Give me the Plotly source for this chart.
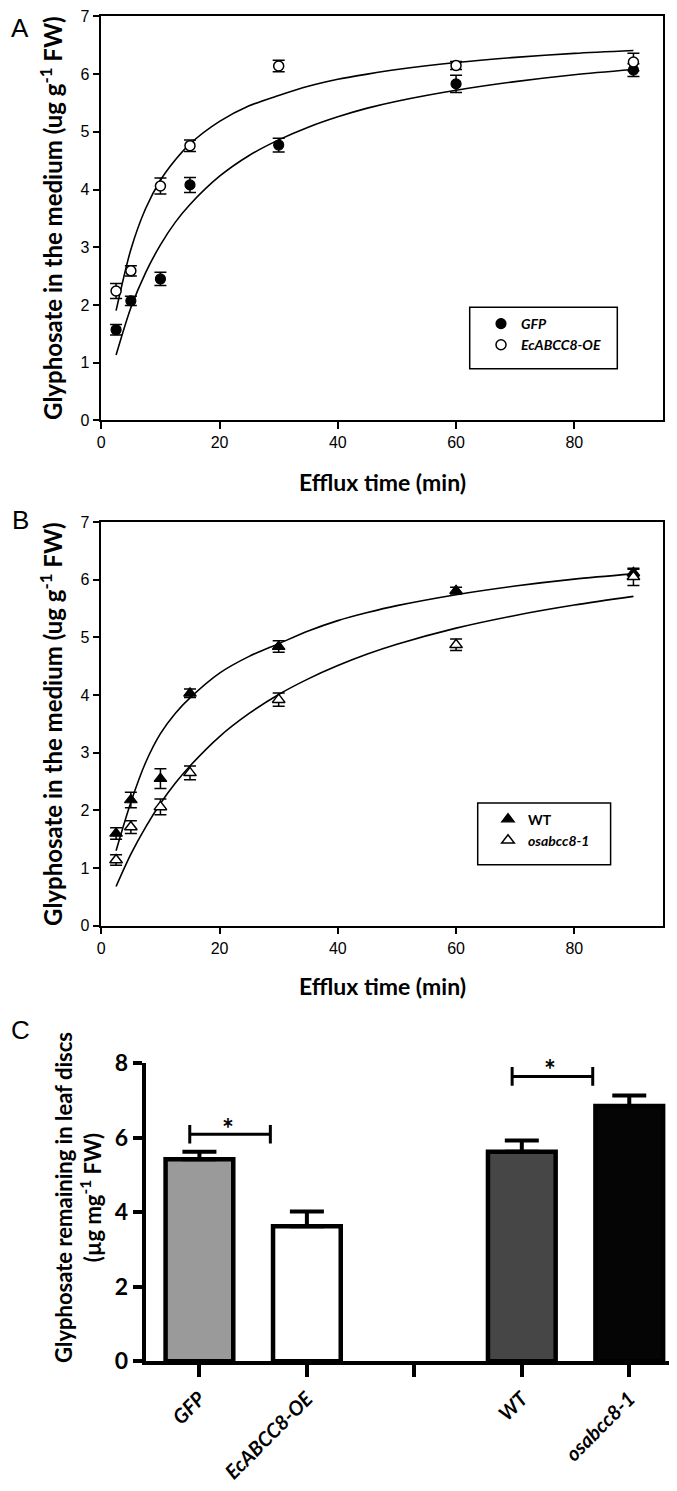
import plotly.graph_objects as go

W, H = 677, 1491


def fx(p):  # pixel x -> paper
    return p / W


def fy(p):  # pixel y -> paper
    return 1 - p / H


# ---------------- data ----------------
time_min = [2.5, 5, 10, 15, 30, 60, 90]

gfp_y = [1.57, 2.07, 2.45, 4.08, 4.77, 5.83, 6.07]
gfp_err = [0.09, 0.08, 0.115, 0.13, 0.12, 0.15, 0.11]
oe_y = [2.24, 2.59, 4.06, 4.76, 6.14, 6.15, 6.21]
oe_err = [0.13, 0.09, 0.14, 0.10, 0.10, 0.07, 0.15]

wt_y = [1.60, 2.18, 2.55, 4.03, 4.84, 5.81, 6.12]
wt_err = [0.10, 0.135, 0.17, 0.075, 0.10, 0.06, 0.06]
mut_y = [1.14, 1.71, 2.06, 2.65, 3.92, 4.87, 6.05]
mut_err = [0.09, 0.11, 0.135, 0.12, 0.115, 0.10, 0.15]

# fitted curves
fit_x = [2.5, 5, 7.5, 10, 12.5, 15, 20, 25, 30, 35, 40, 45, 50, 60, 70, 80, 90]
gfp_fit = [1.13, 1.95, 2.56, 3.04, 3.43, 3.74, 4.23, 4.59, 4.86, 5.08, 5.26, 5.41, 5.53, 5.72, 5.87, 5.99, 6.08]
oe_fit = [1.90, 2.96, 3.67, 4.16, 4.51, 4.79, 5.18, 5.45, 5.63, 5.79, 5.91, 6.00, 6.08, 6.20, 6.29, 6.36, 6.41]
wt_fit = [1.30, 2.14, 2.83, 3.33, 3.68, 3.95, 4.38, 4.67, 4.89, 5.11, 5.29, 5.43, 5.55, 5.74, 5.89, 6.01, 6.10]
mut_fit = [0.68, 1.24, 1.71, 2.12, 2.47, 2.77, 3.28, 3.68, 4.01, 4.28, 4.51, 4.71, 4.88, 5.16, 5.38, 5.56, 5.71]

# panel C
bar_pos = [0, 1, 3, 4]
bar_vals = [5.42, 3.62, 5.62, 6.85]
bar_err = [0.20, 0.40, 0.30, 0.28]
bar_colors = ["#9a9a9a", "#ffffff", "#464646", "#050505"]
cat_ticks = [0, 1, 2, 3, 4]
cat_labels = ["GFP", "EcABCC8-OE", "", "WT", "osabcc8-1"]

sig_x0 = [-0.09, 2.91]
sig_x1 = [0.66, 3.66]
sig_y = [6.09, 7.64]
star_x = [0.27, 3.26]
star_y = [6.48, 8.06]

# ---------------- style ----------------
TITLE_FONT = "Lato"
TICK_FONT = "Liberation Sans"
BLACK = "#000000"
C_YMAX = 8
C_PX_PER_UNIT = (1353.3 - 1055) / C_YMAX

fig = go.Figure()

# Panel A curves
for yv in (gfp_fit, oe_fit):
    fig.add_trace(go.Scatter(x=fit_x, y=yv, mode="lines",
                             line=dict(color=BLACK, width=1.6, shape="spline", smoothing=0.8),
                             showlegend=False, xaxis="x", yaxis="y", hoverinfo="skip"))
fig.add_trace(go.Scatter(x=time_min, y=gfp_y, mode="markers", name="<b><i>GFP</i></b>",
                         marker=dict(symbol="circle", size=10, color=BLACK, line=dict(color=BLACK, width=1.2)),
                         error_y=dict(type="data", array=gfp_err, color=BLACK, thickness=1.5, width=6),
                         xaxis="x", yaxis="y", legend="legend"))
fig.add_trace(go.Scatter(x=time_min, y=oe_y, mode="markers", name="<b><i>EcABCC8-OE</i></b>",
                         marker=dict(symbol="circle", size=10, color="white", line=dict(color=BLACK, width=1.5)),
                         error_y=dict(type="data", array=oe_err, color=BLACK, thickness=1.5, width=6),
                         xaxis="x", yaxis="y", legend="legend"))

# Panel B curves
for yv in (wt_fit, mut_fit):
    fig.add_trace(go.Scatter(x=fit_x, y=yv, mode="lines",
                             line=dict(color=BLACK, width=1.6, shape="spline", smoothing=0.8),
                             showlegend=False, xaxis="x2", yaxis="y2", hoverinfo="skip"))
fig.add_trace(go.Scatter(x=time_min, y=wt_y, mode="markers", name="<b>WT</b>",
                         marker=dict(symbol="triangle-up", size=11, color=BLACK, line=dict(color=BLACK, width=1.2)),
                         error_y=dict(type="data", array=wt_err, color=BLACK, thickness=1.5, width=6),
                         xaxis="x2", yaxis="y2", legend="legend2"))
fig.add_trace(go.Scatter(x=time_min, y=mut_y, mode="markers", name="<b><i>osabcc8-1</i></b>",
                         marker=dict(symbol="triangle-up", size=11, color="white", line=dict(color=BLACK, width=1.5)),
                         error_y=dict(type="data", array=mut_err, color=BLACK, thickness=1.5, width=6),
                         xaxis="x2", yaxis="y2", legend="legend2"))

# Panel C bars
fig.add_trace(go.Bar(x=bar_pos, y=bar_vals, width=0.63,
                     marker=dict(color=bar_colors, line=dict(color=BLACK, width=4.5)),
                     error_y=dict(type="data", symmetric=False, array=bar_err, arrayminus=[0] * len(bar_err),
                                  color=BLACK, thickness=4, width=17),
                     showlegend=False, xaxis="x3", yaxis="y3"))

# ---------------- axes ----------------
line_ax = dict(showline=True, linecolor=BLACK, linewidth=1.5, mirror=True, ticks="outside",
               ticklen=7, tickwidth=1.5, tickcolor=BLACK, showgrid=False, zeroline=False,
               tickfont=dict(family=TICK_FONT, size=16, color=BLACK))
xdom = [fx(93.3), fx(655)]
fig.update_layout(
    xaxis=dict(domain=xdom, range=[0, 95], tickvals=[0, 20, 40, 60, 80], anchor="y", **line_ax),
    yaxis=dict(domain=[fy(412.3), fy(8.4)], range=[0, 7], dtick=1, anchor="x", **line_ax),
    xaxis2=dict(domain=xdom, range=[0, 95], tickvals=[0, 20, 40, 60, 80], anchor="y2", **line_ax),
    yaxis2=dict(domain=[fy(917.7), fy(514)], range=[0, 7], dtick=1, anchor="x2", **line_ax),
    xaxis3=dict(domain=[fx(137.7), fx(675)], range=[-0.5, 4.5], tickvals=cat_ticks,
                ticktext=["<i>%s</i>" % t if t else "" for t in cat_labels],
                tickangle=-45, showline=True, linecolor=BLACK, linewidth=4, ticks="outside", ticklen=12,
                tickwidth=4, tickcolor=BLACK, showgrid=False, zeroline=False, anchor="y3",
                ticklabelstandoff=2,
                tickfont=dict(family=TITLE_FONT, size=20, color=BLACK, weight="bold", style="italic")),
    yaxis3=dict(domain=[fy(1353.3), fy(1055)], range=[0, C_YMAX], tickvals=[0, 2, 4, 6, 8], showline=True,
                linecolor=BLACK, linewidth=4, ticks="outside", ticklen=9, tickwidth=4, tickcolor=BLACK,
                showgrid=False, zeroline=False, anchor="x3",
                tickfont=dict(family=TITLE_FONT, size=23, color=BLACK, weight="bold")),
)

# ---------------- legends ----------------
leg_common = dict(bgcolor="rgba(0,0,0,0)", borderwidth=0, xanchor="left", yanchor="top",
                  font=dict(family=TITLE_FONT, size=14, color=BLACK), itemwidth=30, itemclick=False,
                  tracegroupgap=0)
fig.update_layout(
    legend=dict(x=fx(473), y=fy(300), **leg_common),
    legend2=dict(x=fx(480), y=fy(795.5), **leg_common),
)

shapes = [
    dict(type="rect", xref="paper", yref="paper", x0=fx(461.7), x1=fx(609.3), y0=fy(360.7), y1=fy(299.3),
         line=dict(color=BLACK, width=1.5)),
    dict(type="rect", xref="paper", yref="paper", x0=fx(469.7), x1=fx(602.6), y0=fy(856.7), y1=fy(795),
         line=dict(color=BLACK, width=1.5)),
]
for a, b, yy in zip(sig_x0, sig_x1, sig_y):
    shapes.append(dict(type="line", xref="x3", yref="y3", x0=a, x1=b, y0=yy, y1=yy,
                       line=dict(color=BLACK, width=3)))
    for xx in (a, b):
        shapes.append(dict(type="line", xref="x3", yref="y3", x0=xx, x1=xx, y0=yy - 0.25, y1=yy + 0.25,
                           line=dict(color=BLACK, width=3)))

annotations = []
for sx, sy in zip(star_x, star_y):
    ya = min(sy, C_YMAX - 0.3)
    annotations.append(dict(x=sx, y=ya, xref="x3", yref="y3", text="<b>*</b>", showarrow=False,
                            font=dict(family=TITLE_FONT, size=28, color=BLACK),
                            yshift=(sy - ya) * C_PX_PER_UNIT - 8))


def txt(text, x, y, size, family=TITLE_FONT, angle=0, bold=True):
    annotations.append(dict(x=fx(x), y=fy(y), xref="paper", yref="paper", text=text, showarrow=False,
                            textangle=angle, xanchor="center", yanchor="middle",
                            font=dict(family=family, size=size, color=BLACK,
                                      weight="bold" if bold else "normal")))


ytitle = "Glyphosate in the medium (ug g<sup>-1</sup> FW)"
txt(ytitle, 43, 210, 24, angle=-90)
txt(ytitle, 43, 716, 24, angle=-90)
txt("Efflux time (min)", 374, 474, 23)
txt("Efflux time (min)", 374, 978, 23)
txt("Glyphosate remaining in leaf discs<br>(µg mg<sup>-1</sup> FW)", 70, 1190, 22, angle=-90)
txt("A", 12, 20, 26, family=TICK_FONT, bold=False)
txt("B", 12, 512, 26, family=TICK_FONT, bold=False)
txt("C", 12, 1022, 26, family=TICK_FONT, bold=False)

fig.update_layout(
    width=W, height=H, margin=dict(l=0, r=0, t=0, b=0, autoexpand=False),
    paper_bgcolor="white", plot_bgcolor="white", barmode="overlay",
    shapes=shapes, annotations=annotations, hovermode=False,
)

fig.write_html("out.html")
